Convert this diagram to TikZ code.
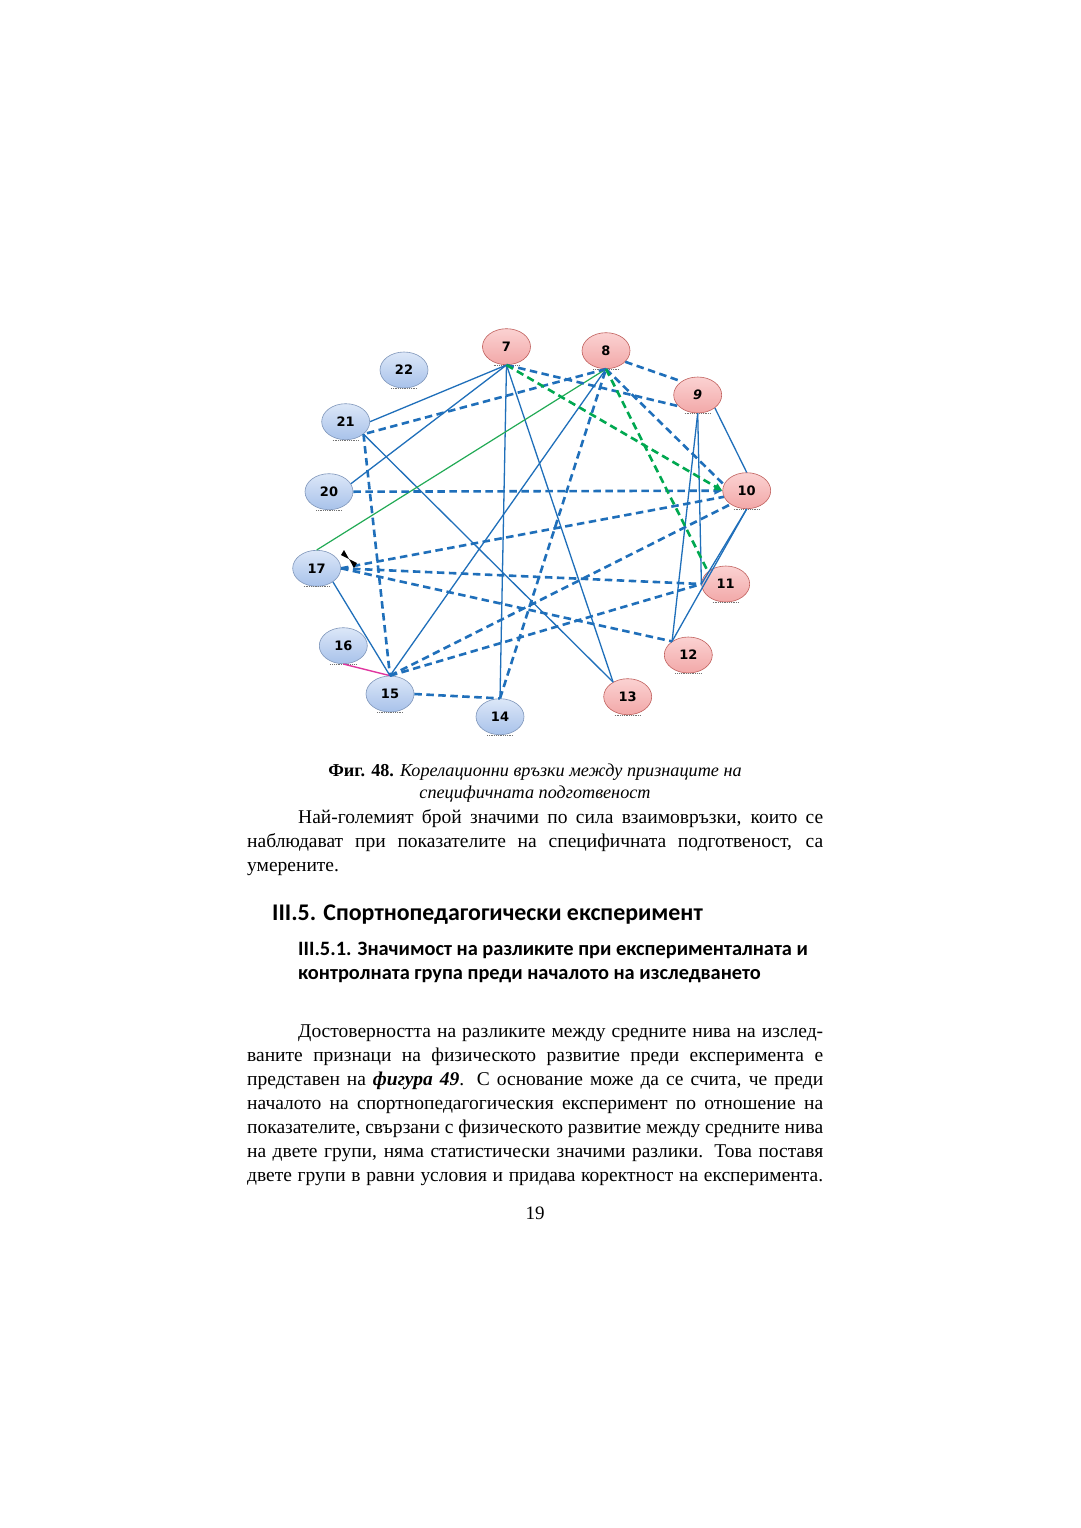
\documentclass[tikz,border=0pt]{standalone}
\usepackage{fontspec}
\setmainfont{Liberation Serif}
\newfontfamily\hfont{Carlito}
\newfontfamily\nfont{DejaVu Sans}
\usetikzlibrary{shapes.geometric,arrows.meta}
\definecolor{eblue}{HTML}{1F6FBA}
\definecolor{egreen}{HTML}{00A850}
\definecolor{egreensol}{HTML}{22AA55}
\definecolor{emag}{HTML}{E0359F}
\definecolor{pinkborder}{HTML}{C0605D}
\definecolor{pinktop}{HTML}{FBD2D2}
\definecolor{pinkbot}{HTML}{F2A8A8}
\definecolor{blueborder}{HTML}{7F96BA}
\definecolor{bluetop}{HTML}{DCE7F8}
\definecolor{bluebot}{HTML}{A8C2EA}
\tikzset{
  vtx/.style={ellipse, minimum width=48pt, minimum height=36pt, inner sep=0pt, line width=0.6pt,
    font=\nfont\bfseries\fontsize{13}{13}\selectfont},
  pinkv/.style={vtx, draw=pinkborder, top color=pinktop, bottom color=pinkbot},
  bluev/.style={vtx, draw=blueborder, top color=bluetop, bottom color=bluebot},
  sol/.style={draw=eblue, line width=1.3pt},
  dsh/.style={draw=eblue, line width=2.6pt, dash pattern=on 7.5pt off 4.5pt},
  gsol/.style={draw=egreensol, line width=1.2pt},
  gdsh/.style={draw=egreen, line width=2.6pt, dash pattern=on 7.5pt off 4.5pt},
  msol/.style={draw=emag, line width=1.4pt},
  arrowtip/.style={-{Triangle[length=8pt,width=7pt]}},
  bodytext/.style={anchor=base west, inner sep=0pt, font=\fontsize{19.5}{24}\selectfont},
  captext/.style={anchor=base, inner sep=0pt, font=\fontsize{18.2}{22}\selectfont},
  headtext/.style={anchor=base west, inner sep=0pt, font=\hfont\bfseries\fontsize{23.9}{28}\selectfont},
  subheadtext/.style={anchor=base west, inner sep=0pt, font=\hfont\bfseries\fontsize{20.4}{24}\selectfont},
  shadowdots/.style={densely dotted, black!55, line width=0.8pt}
}
\begin{document}
\begin{tikzpicture}[x=1pt,y=-1pt]
\useasboundingbox (0,0) rectangle (1080,1528);
\fill[white] (0,0) rectangle (1080,1528);

% vertices
\node[pinkv] (n7)  at (506.5,346.7) {7};
\node[pinkv] (n8)  at (606,350.7) {8};
\node[pinkv] (n9)  at (697.7,395) {\itshape 9};
\node[pinkv] (n10) at (746.7,490.7) {10};
\node[pinkv] (n11) at (725.7,584) {11};
\node[pinkv] (n12) at (688.3,655) {12};
\node[pinkv] (n13) at (627.7,696.7) {13};
\node[bluev] (n14) at (500,716.7) {14};
\node[bluev] (n15) at (390,694) {15};
\node[bluev] (n16) at (343.3,645.7) {16};
\node[bluev] (n17) at (316.7,568.3) {17};
\node[bluev] (n20) at (329,491.7) {20};
\node[bluev] (n21) at (345.7,421.7) {21};
\node[bluev] (n22) at (404,370) {22};

\foreach \n in {n7,n8,n9,n10,n11,n12,n13,n14,n15,n16,n17,n20,n21,n22}{
  \draw[shadowdots] ([xshift=-13pt]\n.south) -- ([xshift=13pt]\n.south);
}

% solid blue connectors
\draw[sol] (n7.south) -- (n21.east);
\draw[sol] (n7.south) -- (n20.20);
\draw[sol] (n7.south) -- (n14.north);
\draw[sol] (n7.south) -- (n13.135);
\draw[sol] (n21.-35) -- (n13.135);
\draw[sol] (n8.south) -- (n15.north);
\draw[sol] (n17.-40) -- (n15.north);
\draw[sol] (n9.south) -- (n12.140);
\draw[sol] (n9.south) -- (n11.west);
\draw[sol] (n9.-37) -- (n10.north);
\draw[sol] (n10.south) -- (n11.west);
\draw[sol] (n10.south) -- (n12.140);

% green and magenta solid
\draw[gsol] (n8.south) -- (n17.north);
\draw[msol] (n16.south) -- (n15.north);

% dashed blue connectors
\draw[dsh] (n8.-30) -- (n9.140);
\draw[dsh] (n7.south) -- (n9.210);
\draw[dsh] (n8.south) -- (n21.-35);
\draw[dsh] (n21.-35) -- (n15.north);
\draw[dsh,arrowtip] (n20.east) -- (n10.west);
\draw[dsh] (n17.east) -- (n10.195);
\draw[dsh] (n17.east) -- (n11.west);
\draw[dsh] (n17.east) -- (n12.140);
\draw[dsh] (n15.north) -- (n10.220);
\draw[dsh] (n15.north) -- (n11.west);
\draw[dsh] (n15.east) -- (n14.north);
\draw[dsh] (n14.north) -- (n8.south);
\draw[dsh] (n8.south) -- (n10.165);

% green dashed
\draw[gdsh,arrowtip] (n7.south) -- (n10.west);
\draw[gdsh] (n8.south) -- (n11.145);

% small black marker near 17
\fill[black] (349,559) -- (341,555) -- (344,550) -- cycle;
\fill[black] (349,559) -- (357,563) -- (354,568) -- cycle;

% caption
\node[captext] (cap1) at (535,776) {\textbf{Фиг. 48.} \textit{Корелационни връзки между признаците на}};
\node[captext] (cap2) at (535,798) {\textit{специфичната подготвеност}};

% paragraph 1
\node[bodytext] (p1a) at (298,823) {\makebox[525pt][s]{Най-големият брой значими по сила взаимовръзки, които се}};
\node[bodytext] (p1b) at (247,847) {\makebox[576pt][s]{наблюдават при показателите на специфичната подготвеност, са}};
\node[bodytext] (p1c) at (247,871) {умерените.};

% headings
\node[headtext] (h1) at (272,920) {III.5. Спортнопедагогически експеримент};
\node[subheadtext] (h2a) at (298,955) {III.5.1. Значимост на разликите при експерименталната и};
\node[subheadtext] (h2b) at (298,979) {контролната група преди началото на изследването};

% paragraph 2
\node[bodytext] (q1) at (298,1037) {\makebox[525pt][s]{Достоверността на разликите между средните нива на изслед-}};
\node[bodytext] (q2) at (247,1061) {\makebox[576pt][s]{ваните признаци на физическото развитие преди експеримента е}};
\node[bodytext] (q3) at (247,1085) {\makebox[576pt][s]{представен на \textbf{\textit{фигура 49}}. С основание може да се счита, че преди}};
\node[bodytext] (q4) at (247,1109) {\makebox[576pt][s]{началото на спортнопедагогическия експеримент по отношение на}};
\node[bodytext] (q5) at (247,1133) {\makebox[576pt][s]{показателите, свързани с физическото развитие между средните нива}};
\node[bodytext] (q6) at (247,1157) {\makebox[576pt][s]{на двете групи, няма статистически значими разлики. Това поставя}};
\node[bodytext] (q7) at (247,1181) {\makebox[576pt][s]{двете групи в равни условия и придава коректност на експеримента.}};

\node[captext, font=\fontsize{19}{24}\selectfont] (pg) at (535,1219) {19};
\end{tikzpicture}
\end{document}
